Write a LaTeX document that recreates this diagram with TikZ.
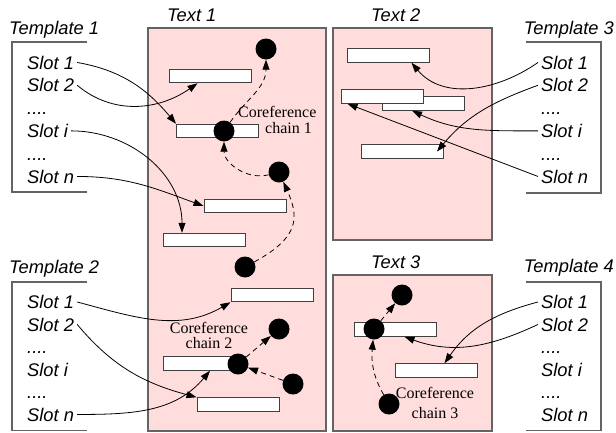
\documentclass[tikz,border=0pt]{standalone}
\usepackage{fontspec}
\setmainfont{Liberation Serif}
\setsansfont{Liberation Sans}
\usetikzlibrary{arrows.meta}

\definecolor{textpink}{RGB}{255,221,221}
\definecolor{frameGray}{RGB}{100,100,100}
\newcommand\slotdots{....}

\begin{document}
\begin{tikzpicture}[x=1pt,y=-1pt,
  sanslbl/.style={font=\sffamily\itshape\fontsize{18.3}{20}\selectfont, inner sep=0pt},
  slot/.style={sanslbl, inner xsep=3pt},
  textframe/.style={draw=frameGray, fill=textpink, line width=1.1pt},
  bracket/.style={draw=frameGray, line width=1.1pt},
  mention/.style={draw=black!75, fill=white, line width=1pt, minimum width=82pt,
                  minimum height=13.5pt, inner sep=0pt},
  entity/.style={circle, fill=black, minimum size=21pt, inner sep=0pt},
  link/.style={line width=0.8pt, -{Triangle[length=10pt,width=7pt]}},
  coref/.style={link, dash pattern=on 5pt off 4pt},
  chainlbl/.style={inner sep=0pt, font=\fontsize{16}{#1}\selectfont}
]
\useasboundingbox (0,0) rectangle (616,432);

% text panels
\path[textframe] (148,28) rectangle (326,431);
\path[textframe] (333,28) rectangle (492,240);
\path[textframe] (333,275) rectangle (492,431);

% panel and template titles
\node[sanslbl, anchor=base west] (ttl1) at (167,21) {Text 1};
\node[sanslbl, anchor=base west] (ttl2) at (371,21) {Text 2};
\node[sanslbl, anchor=base west] (ttl3) at (371,268) {Text 3};
\node[sanslbl, anchor=base west] (tpl1) at (9,34) {Template 1};
\node[sanslbl, anchor=base west] (tpl2) at (9,273) {Template 2};
\node[sanslbl, anchor=base east] (tpl3) at (614,34) {Template 3};
\node[sanslbl, anchor=base east] (tpl4) at (614,272) {Template 4};

% template brackets
\draw[bracket] (87,42) -- (12,42) -- (12,192) -- (87,192);
\draw[bracket] (87,282) -- (12,282) -- (12,430.5) -- (87,430.5);
\draw[bracket] (526,42) -- (601,42) -- (601,193) -- (526,193);
\draw[bracket] (526,282) -- (601,282) -- (601,430.5) -- (526,430.5);

% slot lists
\foreach \nm/\lab [count=\k from 0] in {s1/Slot 1, s2/Slot 2, d1/\slotdots, si/Slot i, d2/\slotdots, sn/Slot n} {
  \node[slot, anchor=base west] (t1\nm) at (24, 69+22.8*\k) {\lab};
  \node[slot, anchor=base west] (t2\nm) at (24, 308.5+22.5*\k) {\lab};
  \node[slot, anchor=base west] (t3\nm) at (538, 69+22.8*\k) {\lab};
  \node[slot, anchor=base west] (t4\nm) at (538, 308.5+22.5*\k) {\lab};
}

% mentions in Text 1
\node[mention] (boxA) at (210.5,76) {};
\node[mention] (boxB) at (217.5,131) {};
\node[mention] (boxC) at (245,206) {};
\node[mention] (boxD) at (204,240) {};
\node[mention] (boxE) at (272,295) {};
\node[mention] (boxF) at (204,363.5) {};
\node[mention] (boxG) at (238,404.5) {};
% mentions in Text 2
\node[mention] (boxH) at (388.5,55.5) {};
\node[mention] (boxJ) at (423,103.5) {};
\node[mention] (boxI) at (382,96.5) {};
\node[mention] (boxK) at (402,151.5) {};
% mentions in Text 3
\node[mention] (boxL) at (395.5,329.5) {};
\node[mention] (boxM) at (436.5,370.5) {};

% entities
\node[entity] (c1) at (266,49) {};
\node[entity] (c2) at (224,131) {};
\node[entity] (c3) at (279,172) {};
\node[entity] (c4) at (245,267) {};
\node[entity] (c5) at (279,329) {};
\node[entity] (c6) at (238,364) {};
\node[entity] (c7) at (293,384) {};
\node[entity] (c8) at (402,295) {};
\node[entity] (c9) at (374,329) {};
\node[entity] (c10) at (389,404) {};

% coreference chains
\draw[coref] (c2) to[out=55,in=-90] (c1);
\draw[coref] (c3) to[out=195,in=-90] (c2);
\draw[coref] (c4) .. controls +(55,-30) and +(20,45) .. (c3);
\draw[coref] (c6) -- (c5);
\draw[coref] (c7) -- (c6);
\draw[coref] (c9) -- (c8);
\draw[coref] (c10) to[out=120,in=-95] (c9);

\node[chainlbl=16, align=left, anchor=north west] (cl1) at (238,106)
  {Coreference\\\hspace*{27pt}chain 1};
\node[chainlbl=15, align=center, anchor=north] (cl2) at (209,322.5)
  {Coreference\\chain 2};
\node[chainlbl=20, align=center, anchor=north] (cl3) at (435,387)
  {Coreference\\chain 3};

% slot fillers: Template 1
\draw[link] (t1s1.east) to[out=-10,in=130] (boxB.north west);
\draw[link] (t1s2.east) to[out=-40,in=-145] ([xshift=-13pt]boxA.south);
\draw[link] (t1si.east) to[out=0,in=90] ([xshift=-22pt]boxD.north);
\draw[link] (t1sn.east) to[out=0,in=160] (boxC.west);
% Template 2
\draw[link] (t2s1.east) to[out=-15,in=-150] (boxE.south west);
\draw[link] (t2s2.east) to[out=-50,in=165] (boxG.north west);
\draw[link] (t2sn.east) to[out=0,in=-130] ([xshift=6pt]boxF.south);
% Template 3
\draw[link] (t3s1.west) to[out=215,in=-50] ([xshift=23pt]boxH.south);
\draw[link] (t3s2.west) to[out=200,in=50] ([xshift=35pt]boxK.center);
\draw[link] (t3si.west) to[out=180,in=-25] ([xshift=-11pt]boxJ.south);
\draw[link] (t3sn.west) -- ([xshift=7pt]boxI.south west);
% Template 4
\draw[link] (t4s1.west) to[out=195,in=55] ([xshift=8pt]boxM.north);
\draw[link] (t4s2.west) to[out=205,in=-20] ([xshift=9pt]boxL.south);
\end{tikzpicture}
\end{document}
